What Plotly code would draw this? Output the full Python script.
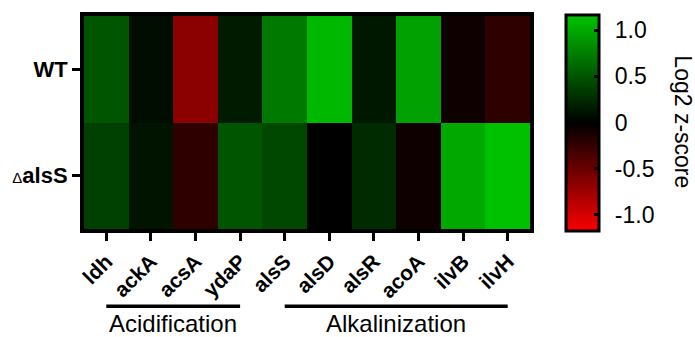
import plotly.graph_objects as go

genes = ["ldh", "ackA", "acsA", "ydaP", "alsS", "alsD", "alsR", "acoA", "ilvB", "ilvH"]
strains = ["WT", "ΔalsS"]
strain_labels = ["WT", "<span style='font-size:15px;font-weight:normal'>Δ</span>alsS"]
wt_vals = [0.51, 0.08, -0.65, 0.16, 0.72, 1.10, 0.14, 0.96, -0.07, -0.22]
dalss_vals = [0.38, 0.12, -0.22, 0.51, 0.43, 0.00, 0.25, -0.07, 1.00, 1.15]
cbar_ticks = [-1.0, -0.5, 0.0, 0.5, 1.0]
cbar_ticktext = ["-1.0", "-0.5", "0", "0.5", "1.0"]
groups = ["Acidification", "Alkalinization"]
group_start = ["ldh", "alsS"]
group_end = ["ydaP", "ilvH"]

zmax = 1.17
FONT = "Liberation Sans, Arial, sans-serif"
CB_X = 1.081

fig = go.Figure()
fig.add_trace(go.Heatmap(
    z=[wt_vals, dalss_vals],
    x=genes,
    y=strains,
    zmin=-zmax, zmax=zmax,
    colorscale=[[0.0, "rgb(250,0,0)"], [0.5, "rgb(0,0,0)"], [1.0, "rgb(0,196,0)"]],
    colorbar=dict(
        x=CB_X, xanchor="left", xpad=0,
        y=0.5, yanchor="middle", ypad=0,
        thicknessmode="pixels", thickness=33,
        lenmode="pixels", len=216,
        outlinewidth=3, outlinecolor="black",
        tickvals=cbar_ticks, ticktext=["\u2009\u2009" + t for t in cbar_ticktext],
        ticks="inside", ticklen=6, tickwidth=3, tickcolor="black",
        tickfont=dict(family=FONT, size=23, color="black"),
    ),
    hoverinfo="skip",
))

fig.update_xaxes(
    type="category", categoryorder="array", categoryarray=genes,
    showline=True, mirror=True, linewidth=4, linecolor="black",
    ticks="outside", ticklen=8, tickwidth=3, tickcolor="black",
    tickangle=-45,
    tickfont=dict(family=FONT, size=21, color="black", weight="bold"),
    showgrid=False, zeroline=False,
)
fig.update_yaxes(
    type="category", categoryorder="array", categoryarray=strains[::-1],
    tickvals=strains, ticktext=strain_labels,
    showline=True, mirror=True, linewidth=4, linecolor="black",
    ticks="outside", ticklen=8, tickwidth=3, tickcolor="black",
    tickfont=dict(family=FONT, size=22, color="black", weight="bold"),
    showgrid=False, zeroline=False,
)

shapes = []
annotations = []
for g, s, e in zip(groups, group_start, group_end):
    i0, i1 = genes.index(s), genes.index(e)
    shapes.append(dict(type="line", xref="x", yref="paper",
                       x0=i0, x1=i1, y0=-0.363, y1=-0.363,
                       line=dict(color="black", width=3.5)))
    annotations.append(dict(text=g, xref="x", yref="paper",
                            x=(i0 + i1) / 2, y=-0.372, yanchor="top", xanchor="center",
                            showarrow=False,
                            font=dict(family=FONT, size=24, color="black")))
annotations.append(dict(text="Log2 z-score", xref="paper", yref="paper",
                        x=1.341, y=0.505, xanchor="center", yanchor="middle",
                        textangle=90, showarrow=False,
                        font=dict(family=FONT, size=23, color="black")))

fig.update_layout(
    width=695, height=337,
    margin=dict(l=81, r=165, t=14, b=108),
    paper_bgcolor="white", plot_bgcolor="white",
    shapes=shapes, annotations=annotations,
    showlegend=False,
)

fig.write_html("out.html")
